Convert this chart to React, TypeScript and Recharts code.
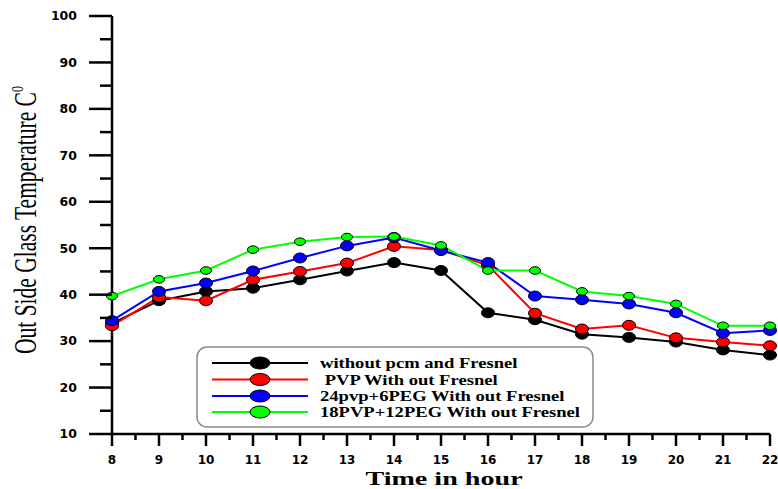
import { LineChart, Line, XAxis, YAxis } from "recharts";

const hours = [8, 9, 10, 11, 12, 13, 14, 15, 16, 17, 18, 19, 20, 21, 22];
const withoutPcm = [33.8, 38.7, 40.7, 41.4, 43.2, 45.1, 46.9, 45.2, 36.1, 34.6, 31.5, 30.8, 29.8, 28.1, 27.0];
const pvp = [33.3, 39.5, 38.7, 43.2, 45.0, 46.8, 50.4, 49.6, 46.3, 36.0, 32.6, 33.4, 30.7, 29.8, 29.0];
const pvp24Peg6 = [34.4, 40.7, 42.5, 45.1, 47.9, 50.5, 52.3, 49.5, 46.9, 39.7, 38.9, 38.0, 36.1, 31.7, 32.3];
const pvp18Peg12 = [39.7, 43.3, 45.2, 49.7, 51.4, 52.4, 52.5, 50.6, 45.2, 45.2, 40.7, 39.7, 38.0, 33.3, 33.3];

const seriesKeys = ["a", "b", "c", "d"];
const seriesNames = [
  "without pcm and Fresnel",
  "\u00a0PVP With out Fresnel",
  "24pvp+6PEG With out Fresnel",
  "18PVP+12PEG With out Fresnel",
];
const seriesColors = ["#000000", "#ff0000", "#0000ff", "#00ff00"];
const dotSize = [
  [6.5, 5],
  [6.5, 5],
  [6.5, 5],
  [5.5, 3.8],
];

const xTicks = [8, 8.5, 9, 9.5, 10, 10.5, 11, 11.5, 12, 12.5, 13, 13.5, 14, 14.5, 15, 15.5, 16, 16.5, 17, 17.5, 18, 18.5, 19, 19.5, 20, 20.5, 21, 21.5, 22];
const yTicks = [10, 15, 20, 25, 30, 35, 40, 45, 50, 55, 60, 65, 70, 75, 80, 85, 90, 95, 100];

const data = hours.map((h, i) => ({
  hour: h,
  a: withoutPcm[i],
  b: pvp[i],
  c: pvp24Peg6[i],
  d: pvp18Peg12[i],
}));

const tickFont = "'DejaVu Sans', Arial, sans-serif";
const serif = "'Liberation Serif', 'Times New Roman', serif";

function XTick(props: any) {
  const { x, y, payload } = props;
  const major = Number.isInteger(payload.value);
  return (
    <g>
      <line x1={x} x2={x} y1={y} y2={y + (major ? 12 : 6)} stroke="#000" strokeWidth={2.5} />
      {major && (
        <text x={x} y={y + 30} textAnchor="middle" fontFamily={tickFont} fontWeight="bold" fontSize={12} fill="#000">
          {payload.value}
        </text>
      )}
    </g>
  );
}

function YTick(props: any) {
  const { x, y, payload } = props;
  const major = payload.value % 10 === 0;
  return (
    <g>
      <line x1={x - (major ? 23 : 12)} x2={x} y1={y} y2={y} stroke="#000" strokeWidth={2.5} />
      {major && (
        <text x={x - 35} y={y} dy="0.35em" textAnchor="end" fontFamily={tickFont} fontWeight="bold" fontSize={12.5} fill="#000">
          {payload.value}
        </text>
      )}
    </g>
  );
}

function makeDot(i: number) {
  return (props: any) => {
    const { cx, cy, index } = props;
    if (cx == null || cy == null) return <g key={index} />;
    return (
      <ellipse
        key={index}
        cx={cx}
        cy={cy}
        rx={dotSize[i][0]}
        ry={dotSize[i][1]}
        fill={seriesColors[i]}
        stroke="#000"
        strokeWidth={1}
      />
    );
  };
}

function LegendBox() {
  const rows = [363, 379.5, 396, 412];
  return (
    <svg width={778} height={489} style={{ position: "absolute", left: 0, top: 0, pointerEvents: "none" }}>
      <rect x={197} y={347} width={396} height={80} rx={10} fill="#fff" stroke="#8a8a8a" strokeWidth={1.5} />
      {seriesNames.map((name, i) => (
        <g key={name}>
          <line x1={212} x2={308} y1={rows[i]} y2={rows[i]} stroke={seriesColors[i]} strokeWidth={2} />
          <ellipse cx={260} cy={rows[i]} rx={10} ry={6} fill={seriesColors[i]} stroke="#000" strokeWidth={1} />
          <text
            transform={`translate(320 ${rows[i]}) scale(1.2 1)`}
            dy="0.35em"
            fontFamily={serif}
            fontWeight="bold"
            fontSize={15.5}
            fill="#000"
          >
            {name}
          </text>
        </g>
      ))}
    </svg>
  );
}

export default function App() {
  return (
    <div style={{ position: "absolute", left: 0, top: 0, width: 778, height: 489, background: "#fff" }}>
      <LineChart width={778} height={489} data={data} margin={{ top: 16, right: 8, left: 0, bottom: 0 }}>
        <XAxis
          dataKey="hour"
          type="number"
          domain={[8, 22]}
          ticks={xTicks}
          interval={0}
          tickSize={0}
          tickMargin={0}
          tickLine={false}
          tick={<XTick />}
          height={55}
          axisLine={{ stroke: "#000", strokeWidth: 2.5 }}
        />
        <YAxis
          type="number"
          domain={[10, 100]}
          ticks={yTicks}
          interval={0}
          tickSize={0}
          tickMargin={0}
          tickLine={false}
          tick={<YTick />}
          width={112}
          axisLine={{ stroke: "#000", strokeWidth: 2.5 }}
        />
        {seriesKeys.map((k, i) => (
          <Line
            key={k}
            dataKey={k}
            name={seriesNames[i]}
            stroke={seriesColors[i]}
            strokeWidth={2}
            dot={makeDot(i)}
            isAnimationActive={false}
          />
        ))}
      </LineChart>
      <svg width={778} height={489} style={{ position: "absolute", left: 0, top: 0, pointerEvents: "none" }}>
        <text
          transform="translate(444 484.5) scale(1.48 1)"
          textAnchor="middle"
          fontFamily={serif}
          fontWeight="bold"
          fontSize={19}
          fill="#000"
        >
          Time in hour
        </text>
        <text
          transform="translate(36 220) rotate(-90) scale(1 1.45)"
          textAnchor="middle"
          fontFamily={serif}
          fontSize={21.5}
          fill="#000"
        >
          Out Side Glass Temperature C
          <tspan dy={-9} fontSize={12}>0</tspan>
        </text>
      </svg>
      <LegendBox />
    </div>
  );
}
